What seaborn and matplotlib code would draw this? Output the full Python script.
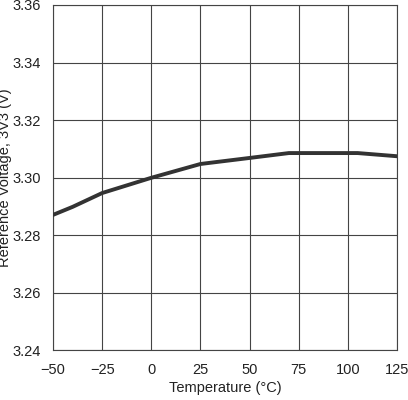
import matplotlib
matplotlib.use("Agg")
import matplotlib.pyplot as plt
import seaborn as sns
import pandas as pd

temperature = [-50, -40, -25, 0, 25, 50, 70, 105, 125]
voltage = [3.287, 3.2898, 3.2946, 3.2999, 3.3047, 3.3068, 3.3085, 3.3085, 3.3074]
x_ticks = [-50, -25, 0, 25, 50, 75, 100, 125]
y_ticks = [3.24, 3.26, 3.28, 3.30, 3.32, 3.34, 3.36]

sns.set_style("white")
plt.rcParams['font.family'] = ['Liberation Sans', 'DejaVu Sans']

df = pd.DataFrame({'Temperature': temperature, 'Voltage': voltage})

fig = plt.figure(figsize=(4.08, 4.0), dpi=100)
ax = fig.add_axes([0.13, 0.125, 0.843, 0.8625])

sns.lineplot(data=df, x='Temperature', y='Voltage', ax=ax,
             color='#333333', linewidth=2.8, zorder=3)

ax.set_xlim(-50, 125)
ax.set_ylim(3.24, 3.36)
ax.set_xticks(x_ticks)
ax.set_xticklabels(['\u221250', '\u221225', '0', '25', '50', '75', '100', '125'])
ax.set_yticks(y_ticks)
ax.set_yticklabels([f'{v:.2f}' for v in y_ticks])
ax.grid(True, color='#444444', linewidth=0.8)
for s in ax.spines.values():
    s.set_color('#444444')
    s.set_linewidth(0.8)
ax.tick_params(axis='both', length=0, labelsize=10.5, colors='#222222', pad=9)
ax.set_xlabel('Temperature (\u00b0C)', fontsize=10.5, color='#222222', labelpad=3)
ax.set_ylabel('Reference Voltage, 3V3 (V)', fontsize=10.5, color='#222222')
ax.yaxis.set_label_coords(-0.118, 0.5)

fig.savefig('out.png', dpi=100)
